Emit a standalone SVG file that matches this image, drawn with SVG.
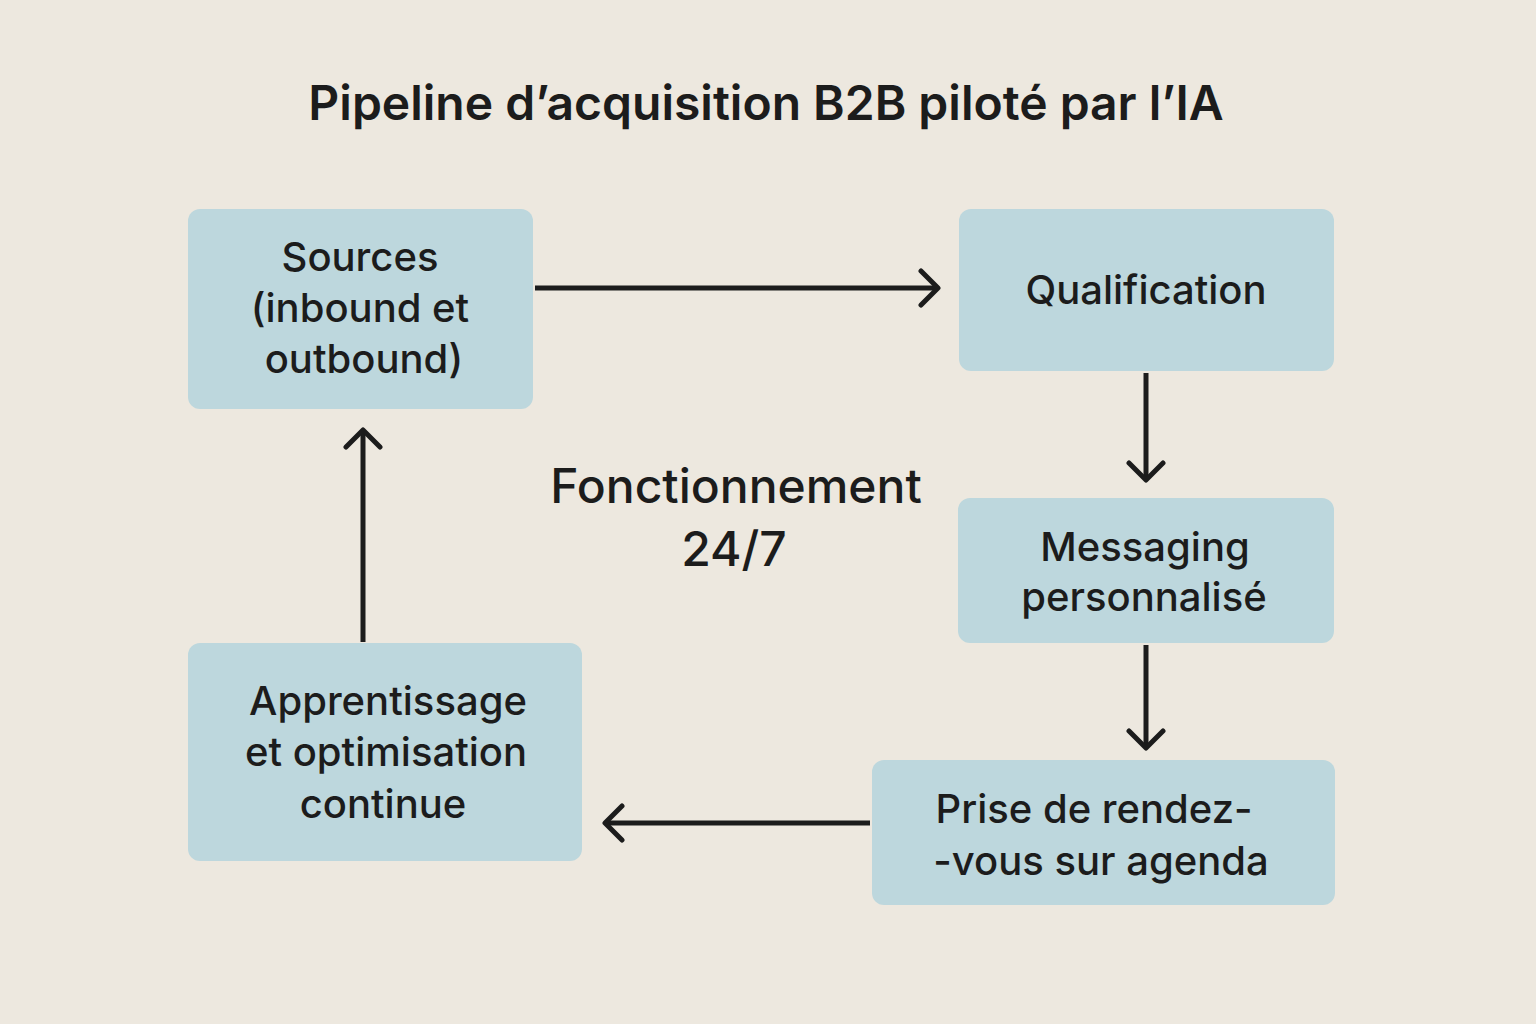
<svg xmlns="http://www.w3.org/2000/svg" width="1536" height="1024" viewBox="0 0 1536 1024">
<style>
.box{fill:#bdd7dd}
.t{font-family:Inter,"Noto Sans","Liberation Sans",sans-serif;font-weight:500;fill:#1c1c1c;text-anchor:middle;font-size:40px}
.c{stroke:#1c1c1c;stroke-width:5;fill:none;marker-end:url(#a)}
</style>
<defs>
<marker id="a" markerUnits="userSpaceOnUse" markerWidth="40" markerHeight="40" refX="20" refY="20" orient="auto" viewBox="0 0 40 40">
<polyline points="3,3 20,20 3,37" fill="none" stroke="#1c1c1c" stroke-width="5" stroke-linecap="round" stroke-linejoin="round"/>
</marker>
</defs>
<rect width="1536" height="1024" fill="#ede8df"/>
<text class="t" x="766" y="120" style="font-size:48px;font-weight:600">Pipeline d’acquisition B2B piloté par l’IA</text>
<g id="sources"><rect class="box" x="188" y="209" width="345" height="200" rx="12"/>
<text class="t" x="360" y="271">Sources</text><text class="t" x="360" y="322">(inbound et</text><text class="t" x="364" y="373">outbound)</text></g>
<g id="qualification"><rect class="box" x="959" y="209" width="375" height="162" rx="12"/>
<text class="t" x="1146" y="304">Qualification</text></g>
<g id="messaging"><rect class="box" x="958" y="498" width="376" height="145" rx="12"/>
<text class="t" x="1145" y="561">Messaging</text><text class="t" x="1144" y="611">personnalisé</text></g>
<g id="prise"><rect class="box" x="872" y="760" width="463" height="145" rx="12"/>
<text class="t" x="1094" y="823">Prise de rendez-</text><text class="t" x="1101" y="875">-vous sur agenda</text></g>
<g id="apprentissage"><rect class="box" x="188" y="643" width="394" height="218" rx="12"/>
<text class="t" x="388" y="715">Apprentissage</text><text class="t" x="386" y="766">et optimisation</text><text class="t" x="383" y="818">continue</text></g>
<g id="center"><text class="t" x="736" y="503" style="font-size:48px">Fonctionnement</text><text class="t" x="734" y="566" style="font-size:48px">24/7</text></g>
<g id="connectors">
<line class="c" x1="535" y1="288" x2="938" y2="288"/>
<line class="c" x1="1146" y1="373" x2="1146" y2="480"/>
<line class="c" x1="1146" y1="645" x2="1146" y2="748"/>
<line class="c" x1="870" y1="823" x2="605" y2="823"/>
<line class="c" x1="363" y1="642" x2="363" y2="430"/>
</g>
</svg>
